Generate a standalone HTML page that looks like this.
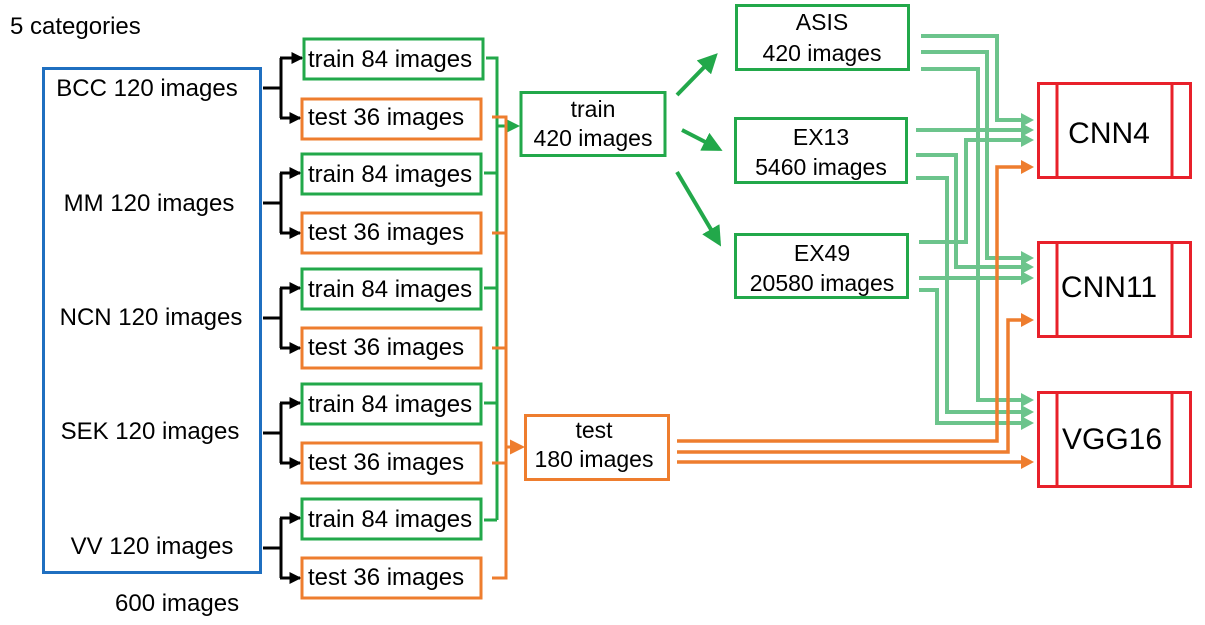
<!DOCTYPE html>
<html><head><meta charset="utf-8"><style>
html,body{margin:0;padding:0;background:#fff;}
svg{display:block;}
text{font-family:"Liberation Sans",Arial,sans-serif;fill:#000;}
</style></head><body>
<svg width="1205" height="625" viewBox="0 0 1205 625" xmlns="http://www.w3.org/2000/svg">
<defs>
<marker id="ab" markerWidth="4" markerHeight="4" refX="3.5" refY="2" orient="auto" markerUnits="strokeWidth"><path d="M0,0 L4,2 L0,4 z" fill="#000"/></marker>
<marker id="ag" markerWidth="5" markerHeight="5" refX="4" refY="2.5" orient="auto" markerUnits="strokeWidth"><path d="M0,0 L5,2.5 L0,5 z" fill="#22a84a"/></marker>
<marker id="ao" markerWidth="5" markerHeight="5" refX="4" refY="2.5" orient="auto" markerUnits="strokeWidth"><path d="M0,0 L5,2.5 L0,5 z" fill="#ee7d2e"/></marker>
</defs>

<text x="10" y="34" font-size="24">5 categories</text>
<text x="115" y="611" font-size="24">600 images</text>

<rect x="43.5" y="68.5" width="217" height="504" fill="none" stroke="#1f6fc0" stroke-width="3"/>
<g font-size="24" text-anchor="middle">
<text x="147" y="96">BCC 120 images</text>
<text x="149" y="211">MM 120 images</text>
<text x="151" y="325">NCN 120 images</text>
<text x="150" y="439">SEK 120 images</text>
<text x="152" y="554">VV 120 images</text>
</g>

<g fill="none" stroke="#000" stroke-width="3">
<path d="M263 88 H281 M281 58 V118"/><path d="M263 203 H281 M281 173 V233"/><path d="M263 318 H281 M281 288 V348"/><path d="M263 433 H281 M281 403 V463"/><path d="M263 548 H281 M281 518 V578"/>
</g>
<g stroke="#000" stroke-width="3" marker-end="url(#ab)">
<line x1="280" y1="58" x2="302" y2="58"/><line x1="280" y1="118" x2="300" y2="118"/>
<line x1="280" y1="173" x2="300" y2="173"/><line x1="280" y1="233" x2="300" y2="233"/>
<line x1="280" y1="288" x2="300" y2="288"/><line x1="280" y1="348" x2="300" y2="348"/>
<line x1="280" y1="403" x2="300" y2="403"/><line x1="280" y1="463" x2="300" y2="463"/>
<line x1="280" y1="518" x2="300" y2="518"/><line x1="280" y1="578" x2="300" y2="578"/>
</g>
<g fill="none" stroke-width="3">
<rect x="304" y="39" width="179" height="40" stroke="#22a84a"/>
<rect x="302" y="99" width="179" height="40" stroke="#ee7d2e"/>
<rect x="302" y="154" width="179" height="40" stroke="#22a84a"/>
<rect x="302" y="213" width="179" height="40" stroke="#ee7d2e"/>
<rect x="302" y="269" width="179" height="40" stroke="#22a84a"/>
<rect x="302" y="328" width="179" height="40" stroke="#ee7d2e"/>
<rect x="302" y="384" width="179" height="40" stroke="#22a84a"/>
<rect x="302" y="443" width="179" height="40" stroke="#ee7d2e"/>
<rect x="302" y="499" width="179" height="40" stroke="#22a84a"/>
<rect x="302" y="558" width="179" height="40" stroke="#ee7d2e"/>
</g>
<g font-size="24">
<text x="308" y="67">train 84 images</text>
<text x="308" y="125">test 36 images</text>
<text x="308" y="182">train 84 images</text>
<text x="308" y="240">test 36 images</text>
<text x="308" y="297">train 84 images</text>
<text x="308" y="355">test 36 images</text>
<text x="308" y="412">train 84 images</text>
<text x="308" y="470">test 36 images</text>
<text x="308" y="527">train 84 images</text>
<text x="308" y="585">test 36 images</text>
</g>

<g fill="none" stroke="#22a84a" stroke-width="3">
<path d="M486 58 H497 V520 M484 173 H497 M484 288 H497 M484 403 H497 M484 520 H497"/>
</g>
<line x1="497" y1="126" x2="517" y2="126" stroke="#22a84a" stroke-width="3" marker-end="url(#ag)"/>
<g fill="none" stroke="#ee7d2e" stroke-width="3">
<path d="M492 117 H506 V578 H492 M492 233 H506 M492 348 H506 M492 463 H506"/>
</g>
<line x1="506" y1="447" x2="522" y2="447" stroke="#ee7d2e" stroke-width="3" marker-end="url(#ao)"/>

<rect x="521" y="92.5" width="144" height="63" fill="none" stroke="#22a84a" stroke-width="3"/>
<text x="593" y="117" font-size="23" text-anchor="middle">train</text>
<text x="593" y="146" font-size="23" text-anchor="middle">420 images</text>
<rect x="525.5" y="415.5" width="143" height="64" fill="none" stroke="#ee7d2e" stroke-width="3"/>
<text x="594" y="438" font-size="23" text-anchor="middle">test</text>
<text x="594" y="467" font-size="23" text-anchor="middle">180 images</text>

<g stroke="#22a84a" stroke-width="4" marker-end="url(#ag)">
<line x1="677" y1="95" x2="715" y2="56"/>
<line x1="682" y1="130" x2="719" y2="149"/>
<line x1="677" y1="172" x2="719" y2="243"/>
</g>
<g fill="none" stroke="#22a84a" stroke-width="3">
<rect x="736.5" y="5.5" width="172" height="64"/>
<rect x="735.5" y="118.5" width="171" height="64"/>
<rect x="735.5" y="234.5" width="172" height="63"/>
</g>
<g font-size="23" text-anchor="middle">
<text x="822" y="30">ASIS</text><text x="822" y="61">420 images</text>
<text x="821" y="145">EX13</text><text x="821" y="175">5460 images</text>
<text x="822" y="261">EX49</text><text x="822" y="291">20580 images</text>
</g>

<g fill="none" stroke="#6cc48c" stroke-width="4">
<path d="M921 36 H997 V120 H1024"/>
<path d="M921 52 H987 V258 H1024"/>
<path d="M921 69 H978 V400 H1024"/>
<path d="M916 130 H1024"/>
<path d="M916 155 H956 V267 H1024"/>
<path d="M916 178 H947 V412 H1024"/>
<path d="M919 242 H966 V140 H1024"/>
<path d="M919 278 H1024"/>
<path d="M919 290 H937 V423 H1024"/>
</g>
<g fill="#6cc48c">
<path d="M1021 113 L1034 120 L1021 127 z"/><path d="M1021 123 L1034 130 L1021 137 z"/><path d="M1021 133 L1034 140 L1021 147 z"/>
<path d="M1021 251 L1034 258 L1021 265 z"/><path d="M1021 260 L1034 267 L1021 274 z"/><path d="M1021 271 L1034 278 L1021 285 z"/>
<path d="M1021 393 L1034 400 L1021 407 z"/><path d="M1021 405 L1034 412 L1021 419 z"/><path d="M1021 416 L1034 423 L1021 430 z"/>
</g>
<g fill="none" stroke="#ee7d2e" stroke-width="3.5">
<path d="M677 441 H997 V167 H1024"/>
<path d="M677 452 H1008 V320 H1024"/>
<path d="M677 462 H1024"/>
</g>
<g fill="#ee7d2e">
<path d="M1021 160 L1034 167 L1021 174 z"/><path d="M1021 313 L1034 320 L1021 327 z"/><path d="M1021 455 L1034 462 L1021 469 z"/>
</g>

<g fill="none" stroke="#e8202a" stroke-width="3">
<rect x="1038.5" y="83.5" width="152" height="94"/><line x1="1057" y1="83" x2="1057" y2="178"/><line x1="1172" y1="83" x2="1172" y2="178"/>
<rect x="1038.5" y="242.5" width="152" height="94"/><line x1="1057" y1="242" x2="1057" y2="337"/><line x1="1172" y1="242" x2="1172" y2="337"/>
<rect x="1038.5" y="392.5" width="152" height="94"/><line x1="1057" y1="392" x2="1057" y2="487"/><line x1="1172" y1="392" x2="1172" y2="487"/>
</g>
<g font-size="30" text-anchor="middle">
<text x="1109" y="143">CNN4</text>
<text x="1109" y="297">CNN11</text>
<text x="1112" y="449">VGG16</text>
</g>
</svg>
</body></html>
